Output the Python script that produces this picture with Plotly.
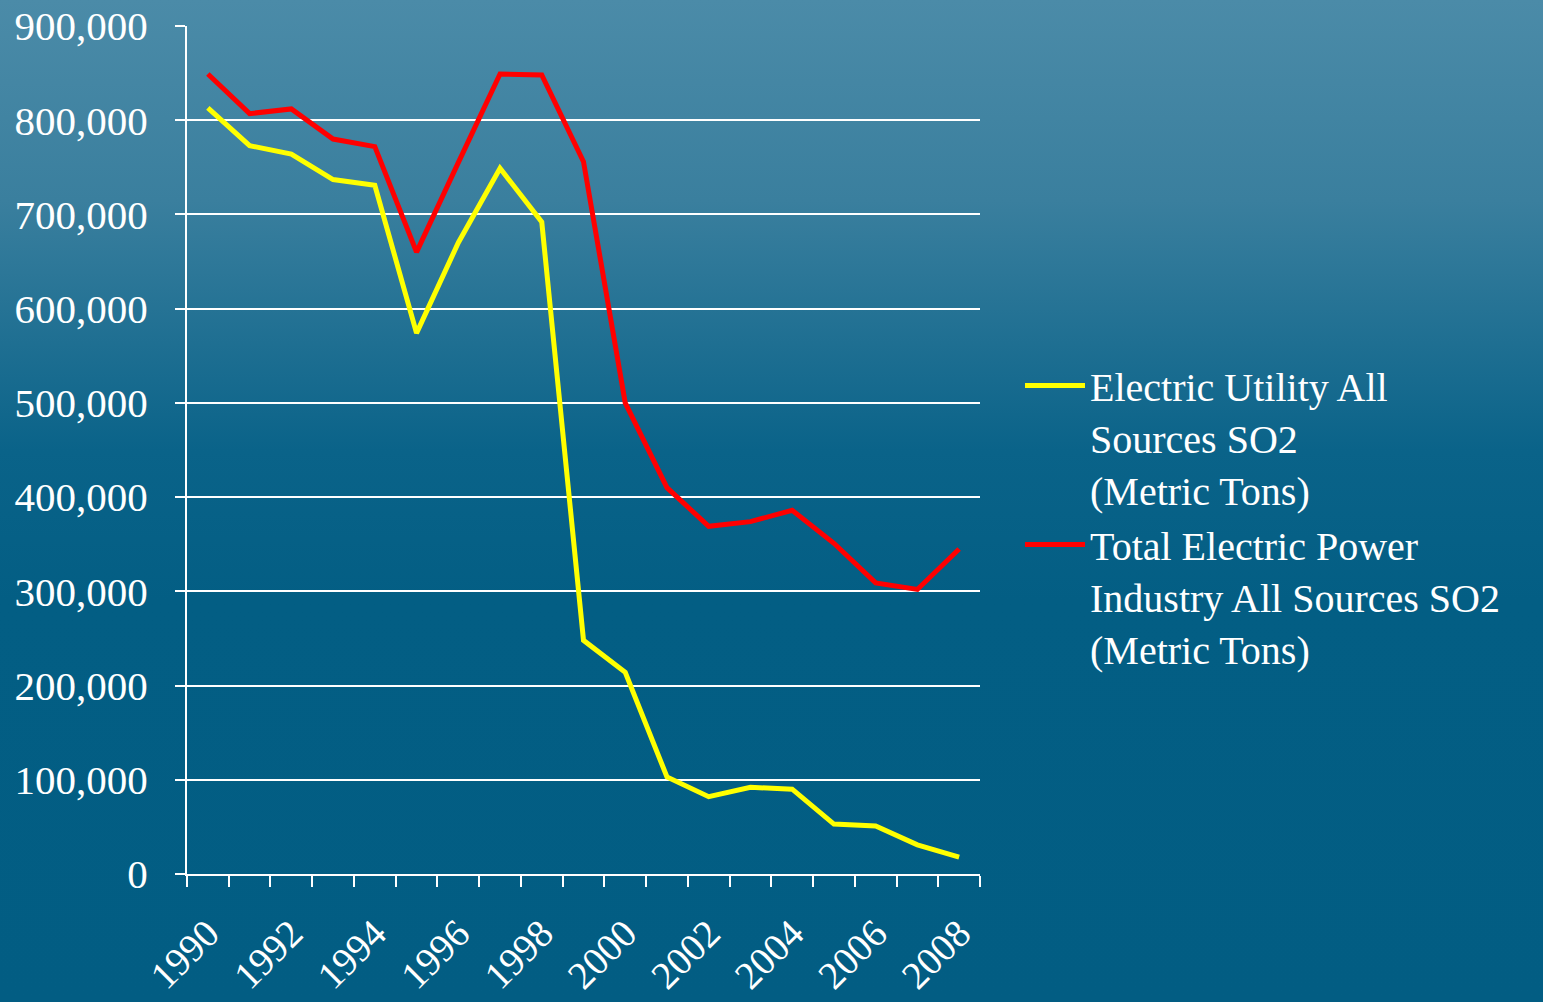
import base64
import plotly.graph_objects as go

years = list(range(1990, 2009))
utility_so2 = [813000, 773000, 764000, 737000, 731000, 574000, 670000, 749000, 692000,
               248000, 214000, 103000, 82000, 92000, 90000, 53000, 51000, 31000, 18000]
total_so2 = [849000, 807000, 812000, 780000, 772000, 660000, 755000, 849000, 848000,
             756000, 500000, 410000, 369000, 374000, 386000, 351000, 309000, 302000, 345000]
tick_years = list(range(1990, 2009, 2))
tick_labels = [str(y) for y in tick_years]
y_ticks = list(range(0, 900001, 100000))

W, H = 1543, 1002
L, R, T, B = 187, 563, 26, 128
pw, ph = W - L - R, H - T - B

svg = f'''<svg xmlns="http://www.w3.org/2000/svg" width="{W}" height="{H}" preserveAspectRatio="none">
<defs><linearGradient id="g" x1="0" y1="0" x2="0" y2="1">
<stop offset="0" stop-color="#4b8ba8"/>
<stop offset="0.2" stop-color="#3a7f9e"/>
<stop offset="0.45" stop-color="#0a6389"/>
<stop offset="0.6" stop-color="#035e84"/>
<stop offset="1" stop-color="#025d83"/>
</linearGradient></defs>
<rect width="{W}" height="{H}" fill="url(#g)"/></svg>'''
svg_uri = "data:image/svg+xml;base64," + base64.b64encode(svg.encode()).decode()

font = "Liberation Serif, Times New Roman, serif"

fig = go.Figure()
fig.add_trace(go.Scatter(
    x=years, y=utility_so2, mode="lines",
    name="Electric Utility All<br>Sources SO2<br>(Metric Tons)",
    line=dict(color="#ffff00", width=5),
))
fig.add_trace(go.Scatter(
    x=years, y=total_so2, mode="lines",
    name="Total Electric Power<br>Industry All Sources SO2<br>(Metric Tons)",
    line=dict(color="#ff0000", width=5),
))

fig.update_layout(
    width=W, height=H,
    margin=dict(l=L, r=R, t=T, b=B, pad=0, autoexpand=False),
    paper_bgcolor="#025d83",
    plot_bgcolor="rgba(0,0,0,0)",
    font=dict(family=font, color="white", size=38),
    showlegend=True,
    legend=dict(
        x=(1020 - L) / pw, y=(874 - 517) / ph, xanchor="left", yanchor="middle",
        font=dict(family=font, size=40, color="white"),
        bgcolor="rgba(0,0,0,0)", valign="top", itemwidth=60,
    ),
    images=[dict(
        source=svg_uri, xref="paper", yref="paper",
        x=-L / pw, y=1 + T / ph, sizex=W / pw, sizey=H / ph,
        xanchor="left", yanchor="top", sizing="stretch", layer="below",
    )],
)

fig.update_xaxes(
    range=[1989.5, 2008.5], automargin=False,
    tickmode="array", tickvals=tick_years, ticktext=tick_labels,
    tickangle=-45, ticks="", showgrid=False, zeroline=False,
    showline=True, linecolor="white", linewidth=2,
    tickfont=dict(family=font, size=39, color="white"),
    ticklabelstandoff=19,
    minor=dict(tickmode="array", tickvals=[y - 0.5 for y in years] + [2008.5],
               ticks="outside", ticklen=11, tickcolor="white", tickwidth=2, showgrid=False),
)
fig.update_yaxes(
    range=[0, 900000], automargin=False, tickmode="array", tickvals=y_ticks,
    tickformat=",", ticks="outside", ticklen=10, tickcolor="white", tickwidth=2,
    showline=True, linecolor="white", linewidth=2,
    showgrid=True, gridcolor="white", gridwidth=1.5, zeroline=False,
    tickfont=dict(family=font, size=41, color="white"),
    ticklabelstandoff=19,
)

fig.write_html("out.html")
